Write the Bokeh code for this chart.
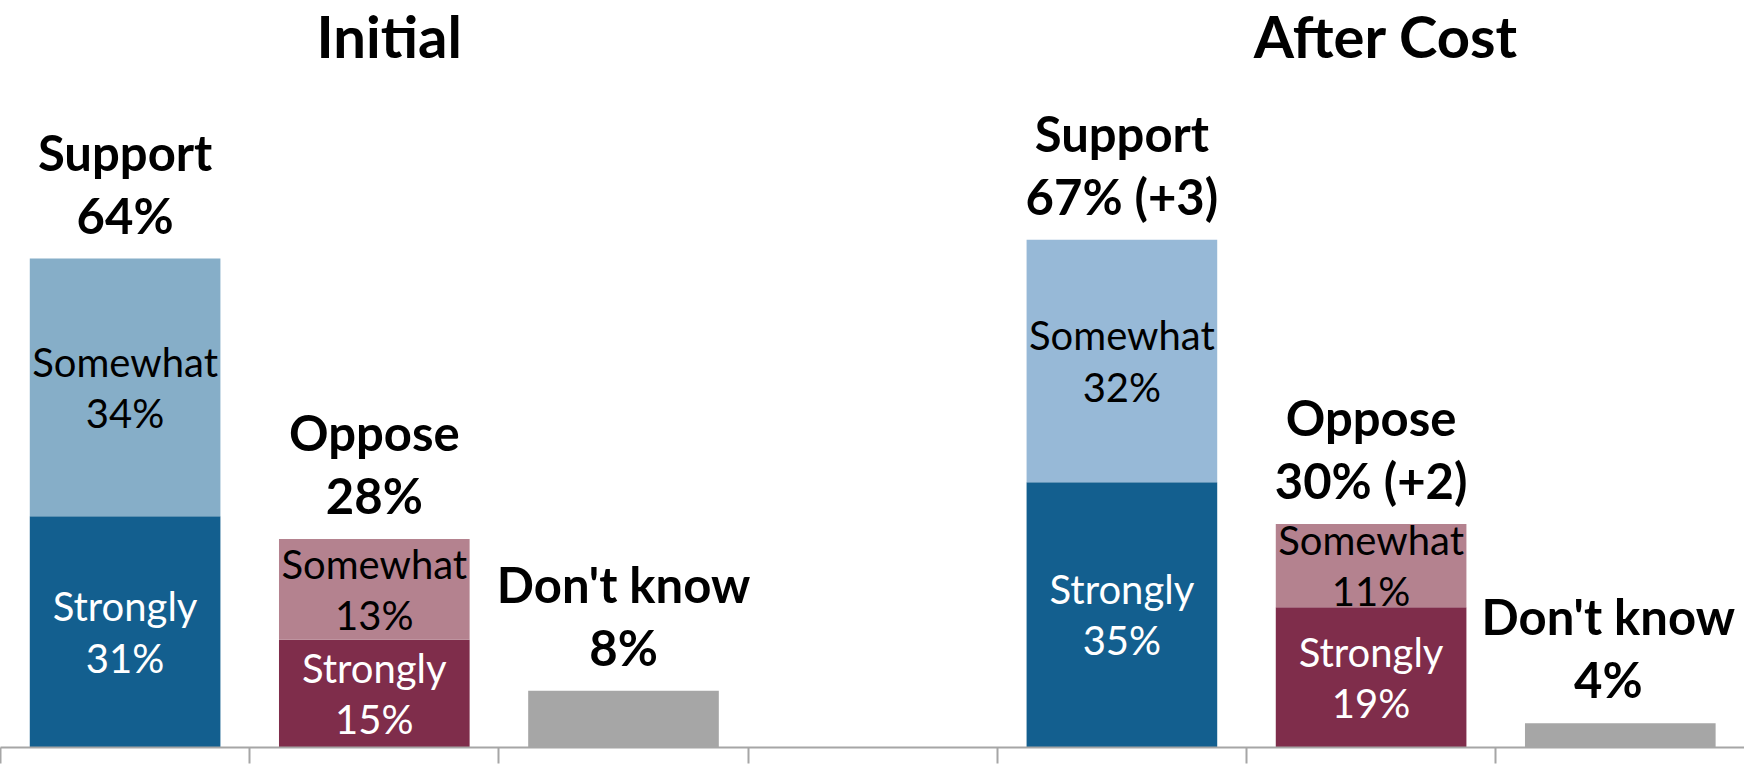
from bokeh.plotting import figure
from bokeh.models import Range1d, FixedTicker, ColumnDataSource
from bokeh.core.properties import value
from bokeh.embed import file_html
from bokeh.resources import INLINE

# ---- data ----
slots = [0.5, 1.5, 2.5, 4.5, 5.5, 6.5]          # bar centres (slot 3.5 left empty)
strongly = [30.5, 14.2, 0.0, 35.0, 18.5, 0.0]
somewhat = [34.0, 13.3, 0.0, 32.0, 11.0, 0.0]
dontknow = [0.0, 0.0, 7.5, 0.0, 0.0, 3.2]
cat_names = ["Support", "Oppose", "Don't know", "Support", "Oppose", "Don't know"]
cat_values = ["64%", "28%", "8%", "67% (+3)", "30% (+2)", "4%"]
strong_labels = ["31%", "15%", "", "35%", "19%", ""]
some_labels = ["34%", "13%", "", "32%", "11%", ""]
group_titles = ["Initial", "After Cost"]
group_x = [1.56, 5.56]

strong_colors = ["#135f8f", "#7f2d4b", "#a6a6a6", "#135f8f", "#7f2d4b", "#a6a6a6"]
some_colors = ["#86aec8", "#b4828f", "#a6a6a6", "#97b9d7", "#b4828f", "#a6a6a6"]
label_x_shift = [0, 0, 0, 0, 0, -12]   # px, keeps the last label inside the frame

W_PX, H_PX = 1744, 764
SLOT_PX = 249.2
AXIS_Y = 747
PX = 7.58  # screen px per percentage point

p = figure(width=W_PX, height=H_PX, output_backend="svg", toolbar_location=None,
           x_range=Range1d(0, W_PX / SLOT_PX), y_range=Range1d(0, AXIS_Y / PX),
           min_border_left=0, min_border_right=0, min_border_top=0,
           min_border_bottom=H_PX - AXIS_Y)
p.outline_line_color = None
p.grid.visible = False
p.yaxis.visible = False
p.background_fill_color = "white"
p.border_fill_color = "white"

ticks = [0, 1, 2, 3, 4, 5, 6, 7]
xa = p.xaxis[0]
xa.ticker = FixedTicker(ticks=ticks)
xa.major_label_overrides = {t: "" for t in ticks}
xa.major_label_text_font_size = "0px"
xa.major_label_standoff = 0
xa.major_tick_out = 16
xa.major_tick_in = 0
xa.minor_tick_out = 0
xa.minor_tick_in = 0
xa.axis_line_color = "#a6a6a6"
xa.major_tick_line_color = "#a6a6a6"
xa.axis_line_width = 2
xa.major_tick_line_width = 2

# bars
tops2 = [s + m for s, m in zip(strongly, somewhat)]
src = ColumnDataSource(dict(x=slots, s=strongly, top2=tops2, bot2=strongly,
                            dk=dontknow, sc=strong_colors, mc=some_colors))
W = 0.765
p.vbar(x="x", width=W, bottom=0, top="s", fill_color="sc", line_color=None, source=src)
p.vbar(x="x", width=W, bottom="bot2", top="top2", fill_color="mc", line_color=None, source=src)
p.vbar(x="x", width=W, bottom=0, top="dk", fill_color="#a6a6a6", line_color=None, source=src)

# category labels above bars
totals = [s + m + d for s, m, d in zip(strongly, somewhat, dontknow)]
lab = ColumnDataSource(dict(x=slots, yv=[t + 44 / PX for t in totals],
                            yn=[t + 107 / PX for t in totals],
                            names=cat_names, vals=cat_values, dx=label_x_shift))
for col in ("yn", "yv"):
    p.text(x="x", y=col, text="names" if col == "yn" else "vals", source=lab,
           x_offset="dx", text_align="center", text_baseline="middle",
           text_font=value("Lato"), text_font_style="bold",
           text_font_size="49px", text_color="black")

# inside-segment labels
idx = [i for i in range(len(slots)) if strongly[i] > 0]
off = 25.6 / PX
sc_c = [strongly[i] / 2 for i in idx]
mc_c = [strongly[i] + somewhat[i] / 2 for i in idx]
ins = ColumnDataSource(dict(
    x=[slots[i] for i in idx],
    s1=[c + off for c in sc_c], s2=[c - off for c in sc_c],
    m1=[c + off for c in mc_c], m2=[c - off for c in mc_c],
    sw=["Strongly"] * len(idx), mw=["Somewhat"] * len(idx),
    sl=[strong_labels[i] for i in idx], ml=[some_labels[i] for i in idx],
))
common = dict(source=ins, text_align="center", text_baseline="middle",
              text_font=value("Lato"), text_font_size="40px")
p.text(x="x", y="s1", text="sw", text_color="white", **common)
p.text(x="x", y="s2", text="sl", text_color="white", **common)
p.text(x="x", y="m1", text="mw", text_color="black", **common)
p.text(x="x", y="m2", text="ml", text_color="black", **common)

# group titles
tt = ColumnDataSource(dict(x=group_x, y=[(AXIS_Y - 35) / PX] * 2, t=group_titles))
p.text(x="x", y="y", text="t", source=tt, text_align="center", text_baseline="middle",
       text_font=value("Lato"), text_font_style="bold", text_font_size="58px",
       text_color="black")

open("out.html", "w").write(file_html(p, INLINE))
